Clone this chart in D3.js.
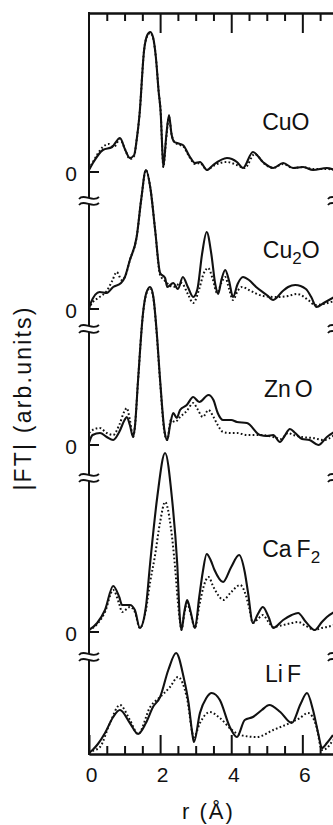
<!DOCTYPE html>
<html>
<head>
<meta charset="utf-8">
<script src="https://cdn.jsdelivr.net/npm/d3@7"></script>
<style>
  body { margin: 0; background: #fff; }
  svg { display: block; }
  text { font-family: "Liberation Sans", Arial, sans-serif; fill: #111; }
</style>
</head>
<body>
<svg id="chart"></svg>
<script>
// |FT| in arbitrary units; pairs are [r (Å), |FT|]
const cuoSolid = [[0,0.2],[0.11,0.9],[0.39,2.2],[0.65,2.5],[0.87,3.4],[1.02,2.2],[1.15,1.4],[1.27,1.7],[1.34,3.2],[1.42,5.7],[1.55,12.2],[1.64,13.7],[1.72,14.0],[1.8,13.5],[1.88,11.5],[1.96,8.0],[2.02,5.7],[2.05,3.2],[2.09,0.5],[2.17,3.5],[2.25,5.7],[2.32,3.8],[2.4,3.0],[2.48,2.9],[2.56,2.8],[2.64,2.7],[2.84,1.5],[2.98,0.9],[3.12,1.0],[3.32,0.2],[3.49,0.7],[3.88,1.4],[4.16,1.0],[4.33,0.4],[4.61,2.0],[4.89,1.0],[5.18,0.4],[5.46,0.9],[5.74,0.4],[6.02,0.5],[6.3,0.2],[6.69,0.4],[6.9,0.2]];
const cuoDotted = [[0,0.3],[0.11,1.0],[0.39,2.5],[0.55,2.8],[0.7,2.5],[0.87,3.3],[1.02,2.2],[1.15,1.3],[1.27,1.6],[1.34,3.2],[1.42,5.7],[1.55,12.2],[1.64,13.6],[1.72,13.9],[1.8,13.4],[1.88,11.5],[1.96,8.0],[2.02,5.7],[2.05,3.2],[2.09,0.5],[2.17,3.3],[2.25,5.5],[2.32,3.8],[2.4,3.0],[2.48,2.8],[2.56,2.7],[2.64,2.6],[2.84,1.4],[2.98,0.8],[3.12,0.9],[3.32,0.2],[3.49,0.6],[3.88,1.0],[4.16,0.7],[4.38,0.4],[4.66,1.8],[4.94,0.8],[5.18,0.4],[5.46,0.8],[5.74,0.4],[6.02,0.5],[6.3,0.3],[6.69,0.3],[6.9,0.2]];

const cu2oSolid = [[0,0],[0.05,0.6],[0.3,1.7],[0.5,1.6],[0.68,2.2],[0.9,2.6],[1.01,3.2],[1.15,4.9],[1.34,7.2],[1.47,11.0],[1.6,13.9],[1.73,12.0],[1.86,7.9],[2.0,3.6],[2.14,3.1],[2.2,2.2],[2.37,2.6],[2.5,2.0],[2.64,3.2],[2.78,2.2],[2.93,1.2],[3.05,2.0],[3.18,5.5],[3.31,7.7],[3.44,5.5],[3.55,2.5],[3.63,1.5],[3.73,3.0],[3.83,3.9],[3.94,2.8],[4.05,1.2],[4.18,2.5],[4.33,3.2],[4.5,2.9],[4.7,2.2],[5.0,1.4],[5.18,0.9],[5.45,1.8],[5.6,2.2],[5.8,2.4],[6.1,2.0],[6.25,1.2],[6.4,0.2],[6.6,0.6],[6.9,1.2]];
const cu2oDotted = [[0,0],[0.05,0.4],[0.3,1.2],[0.5,1.8],[0.65,2.8],[0.78,3.7],[0.92,2.9],[1.01,3.2],[1.15,4.9],[1.34,7.2],[1.47,11.0],[1.6,13.9],[1.73,12.0],[1.86,7.9],[2.0,3.4],[2.14,2.8],[2.37,2.2],[2.6,2.6],[2.78,1.5],[2.93,0.6],[3.1,2.0],[3.22,3.5],[3.35,4.1],[3.48,3.0],[3.6,1.6],[3.72,2.6],[3.83,3.2],[3.94,2.0],[4.05,0.9],[4.18,1.8],[4.3,2.2],[4.5,1.9],[4.9,1.3],[5.3,1.2],[5.6,1.3],[5.85,1.5],[6.2,0.8],[6.35,0.4],[6.6,0.5],[6.9,0.8]];

const znoSolid = [[0,0.2],[0.1,1.0],[0.31,1.2],[0.5,0.8],[0.68,0.5],[0.85,1.3],[1.0,2.5],[1.06,2.8],[1.15,2.0],[1.24,0.8],[1.29,1.8],[1.38,6.5],[1.52,13.2],[1.62,15.3],[1.72,15.8],[1.81,14.8],[1.9,11.5],[2.0,6.5],[2.12,1.5],[2.2,0.5],[2.28,2.0],[2.37,3.2],[2.47,2.7],[2.56,3.5],[2.75,4.0],[2.93,4.8],[3.1,4.3],[3.36,5.0],[3.5,4.5],[3.62,3.2],[3.77,2.5],[4.0,2.5],[4.16,2.3],[4.44,2.2],[4.81,1.0],[5.0,0.9],[5.18,1.0],[5.37,0.3],[5.5,0.9],[5.65,1.6],[5.8,1.2],[5.99,0.6],[6.2,0.5],[6.45,0.0],[6.69,0.8],[6.9,1.3]];
const znoDotted = [[0,1.2],[0.1,1.5],[0.3,1.7],[0.5,1.2],[0.68,1.0],[0.85,2.0],[1.0,3.4],[1.06,3.7],[1.15,2.5],[1.24,0.8],[1.29,1.8],[1.38,6.5],[1.52,13.2],[1.62,15.2],[1.72,15.7],[1.81,14.7],[1.9,11.3],[2.0,6.3],[2.12,1.3],[2.2,0.5],[2.3,2.5],[2.42,2.3],[2.56,2.8],[2.75,3.4],[2.93,4.2],[3.05,3.6],[3.2,2.8],[3.36,3.5],[3.5,2.8],[3.62,2.0],[3.77,1.3],[4.0,1.2],[4.16,1.2],[4.44,1.0],[4.81,1.0],[5.18,0.8],[5.4,0.6],[5.6,1.2],[5.75,1.0],[5.99,0.8],[6.3,0.7],[6.6,0.5],[6.9,1.0]];

const caf2Solid = [[0,0.2],[0.23,0.9],[0.45,2.2],[0.68,4.6],[0.85,3.5],[0.93,2.7],[1.15,2.7],[1.29,2.2],[1.43,0.4],[1.6,2.5],[1.72,6.9],[1.92,13.5],[2.14,17.9],[2.33,13.5],[2.48,6.9],[2.56,1.2],[2.6,0.2],[2.68,2.0],[2.76,3.2],[2.86,2.0],[2.98,0.4],[3.1,3.5],[3.2,6.0],[3.31,7.8],[3.42,7.2],[3.53,6.2],[3.77,5.0],[4.0,6.5],[4.22,7.7],[4.38,6.0],[4.47,4.0],[4.61,0.9],[4.75,1.8],[4.89,2.5],[5.05,1.5],[5.18,0.4],[5.46,1.2],[5.7,1.7],[5.88,1.9],[6.1,1.0],[6.35,0.2],[6.55,1.0],[6.69,1.5],[6.9,2.0]];
const caf2Dotted = [[0,0.2],[0.23,0.8],[0.45,2.0],[0.68,4.2],[0.85,2.8],[0.93,2.0],[1.15,2.5],[1.29,2.0],[1.43,0.4],[1.6,2.2],[1.72,5.0],[1.85,7.5],[2.0,11.0],[2.14,13.0],[2.3,10.5],[2.42,6.5],[2.5,3.0],[2.56,1.0],[2.6,0.2],[2.68,1.8],[2.76,2.9],[2.86,1.8],[2.98,0.4],[3.1,2.6],[3.22,4.5],[3.36,5.5],[3.5,4.5],[3.65,3.6],[3.77,3.2],[4.0,4.0],[4.25,4.7],[4.4,3.8],[4.5,2.5],[4.61,0.9],[4.75,1.3],[4.89,1.7],[5.05,1.0],[5.18,0.5],[5.46,0.7],[5.7,0.9],[5.88,1.0],[6.1,0.6],[6.35,0.2],[6.55,0.4],[6.69,0.5],[6.9,0.7]];

const lifSolid = [[0,0.1],[0.1,0.4],[0.25,1.0],[0.45,2.1],[0.68,3.7],[0.87,4.4],[1.15,3.1],[1.38,2.0],[1.6,3.1],[1.8,4.7],[2.0,5.7],[2.23,8.4],[2.45,10.1],[2.66,7.7],[2.8,5.1],[2.9,2.2],[2.95,1.2],[3.12,4.1],[3.3,5.6],[3.45,6.1],[3.68,5.4],[3.96,2.7],[4.16,1.7],[4.38,3.4],[4.61,3.7],[4.86,4.4],[5.07,4.9],[5.38,4.2],[5.7,3.1],[5.95,5.0],[6.13,6.1],[6.3,4.4],[6.45,2.0],[6.55,0.6],[6.69,1.1],[6.86,1.9]];
const lifDotted = [[0,0.1],[0.1,0.3],[0.31,0.7],[0.59,3.1],[0.87,4.9],[1.15,3.4],[1.38,2.0],[1.72,4.7],[2.0,5.7],[2.28,6.7],[2.5,7.7],[2.75,5.7],[2.95,1.7],[3.12,3.1],[3.4,4.2],[3.68,3.6],[4.02,2.4],[4.25,1.9],[4.72,1.7],[5.18,2.4],[5.65,3.1],[5.93,3.6],[6.16,4.1],[6.4,2.7],[6.55,0.4],[6.69,0.6],[6.86,1.4]];

// panels, top to bottom, and the vertical shift of each zero line
const panelNames = ["CuO", "Cu2O", "ZnO", "CaF2", "LiF"];
const panelOffsets = [58.2, 44.5, 30.9, 12.2, 0];
const breakLevels = [55.3, 42.5, 27.6, 9.7];
const xTickLabels = [0, 2, 4, 6];

const solids = [cuoSolid, cu2oSolid, znoSolid, caf2Solid, lifSolid];
const dotteds = [cuoDotted, cu2oDotted, znoDotted, caf2Dotted, lifDotted];

// label text pieces: [text, isSubscript, gapBefore]
const labelParts = [
  [["CuO", 0, 0]],
  [["Cu", 0, 0], ["2", 1, 0], ["O", 0, 0]],
  [["Zn", 0, 0], ["O", 0, 4]],
  [["Ca", 0, 0], ["F", 0, 5], ["2", 1, 0]],
  [["Li", 0, 0], ["F", 0, 4]]
];
const labelAt = [[4.87, 62.4], [4.89, 49.6], [4.92, 35.7], [4.87, 19.7], [4.95, 7.2]];

const width = 333;
const height = 825;

const x = d3.scaleLinear([0, 7], [89, 337.9]);
const y = d3.scaleLinear([0, 74.1], [754, 13]);

const svg = d3.select("#chart").attr("width", width).attr("height", height);

// curves
panelNames.forEach((name, i) => {
  const off = panelOffsets[i];
  const line = d3.line()
    .x(d => x(d[0]))
    .y(d => y(d[1] + off))
    .curve(d3.curveMonotoneX);

  svg.append("path")
    .attr("d", line(dotteds[i]))
    .attr("fill", "none")
    .attr("stroke", "#111")
    .attr("stroke-width", 2)
    .attr("stroke-dasharray", "1.7 2.3");

  svg.append("path")
    .attr("d", line(solids[i]))
    .attr("fill", "none")
    .attr("stroke", "#111")
    .attr("stroke-width", 2.1)
    .attr("stroke-linejoin", "round");
});

// frame: bottom and top axes with inward ticks
const minorTicks = d3.range(0, 7.01, 0.5).filter(d => d % 2 !== 0);
const majorTicks = xTickLabels;

const bottomAxis = svg.append("g").attr("transform", `translate(0,${y(0)})`);
bottomAxis.call(d3.axisBottom(x).tickValues(minorTicks).tickSize(-8).tickSizeOuter(0).tickFormat(""));
bottomAxis.append("g").call(d3.axisBottom(x).tickValues(majorTicks).tickSize(-19).tickSizeOuter(0).tickPadding(13).tickFormat(d3.format("d")));

const topAxis = svg.append("g").attr("transform", `translate(0,${y(74.1)})`);
topAxis.call(d3.axisTop(x).tickValues(minorTicks).tickSize(-8).tickSizeOuter(0).tickFormat(""));
topAxis.append("g").call(d3.axisTop(x).tickValues(majorTicks.filter(d => d > 0)).tickSize(-20).tickSizeOuter(0).tickFormat(""));

svg.selectAll(".domain, .tick line").attr("stroke", "#111").attr("stroke-width", 2);
svg.selectAll(".tick text").attr("font-size", 21).attr("fill", "#111")
  .attr("dx", 2)
  .attr("font-family", "Liberation Sans, Arial, sans-serif");

// left axis line
svg.append("line")
  .attr("x1", x(0)).attr("x2", x(0))
  .attr("y1", y(74.1) - 1).attr("y2", y(0) + 1)
  .attr("stroke", "#111").attr("stroke-width", 2);

// right axis line (mostly outside the picture)
svg.append("line")
  .attr("x1", x(7)).attr("x2", x(7))
  .attr("y1", y(74.1)).attr("y2", y(0))
  .attr("stroke", "#111").attr("stroke-width", 2);

// zero ticks and "0" labels for the upper panels
panelOffsets.slice(0, 4).forEach(off => {
  svg.append("line")
    .attr("x1", x(0)).attr("x2", x(0) + 10)
    .attr("y1", y(off)).attr("y2", y(off))
    .attr("stroke", "#111").attr("stroke-width", 2);
  svg.append("text")
    .attr("x", 77).attr("y", y(off) + 9)
    .attr("text-anchor", "end")
    .attr("font-size", 21)
    .text("0");
});

// axis breaks
function breakMark(cx, cy) {
  const g = svg.append("g").attr("transform", `translate(${cx},${cy})`);
  g.append("rect").attr("x", -3).attr("y", -3).attr("width", 6).attr("height", 6).attr("fill", "#fff");
  [-3, 3].forEach(dy => {
    g.append("path")
      .attr("d", `M-10,${dy + 1} C-5,${dy - 5} 4,${dy + 5} 10,${dy - 1}`)
      .attr("fill", "none").attr("stroke", "#111").attr("stroke-width", 1.8);
  });
}
breakLevels.forEach(b => {
  breakMark(x(0), y(b));
  breakMark(x(7), y(b));
});

// panel labels
labelParts.forEach((parts, i) => {
  const t = svg.append("text")
    .attr("x", x(labelAt[i][0]))
    .attr("y", y(labelAt[i][1]))
    .attr("font-size", 23);
  let shifted = false;
  parts.forEach(([s, sub, gap]) => {
    const ts = t.append("tspan").text(s).attr("dx", gap);
    if (sub) { ts.attr("font-size", 17).attr("dy", 6); shifted = true; }
    else if (shifted) { ts.attr("dy", -6); shifted = false; }
  });
});

// axis titles
svg.append("text")
  .attr("x", x(3.5) - 5).attr("y", 819)
  .attr("text-anchor", "middle")
  .attr("font-size", 22)
  .attr("letter-spacing", 2)
  .text("r (Å)");

svg.append("text")
  .attr("transform", `translate(31,${y(35.6)}) rotate(-90)`)
  .attr("text-anchor", "middle")
  .attr("font-size", 23)
  .attr("letter-spacing", 2.2)
  .text("|FT| (arb.units)");
</script>
</body>
</html>
